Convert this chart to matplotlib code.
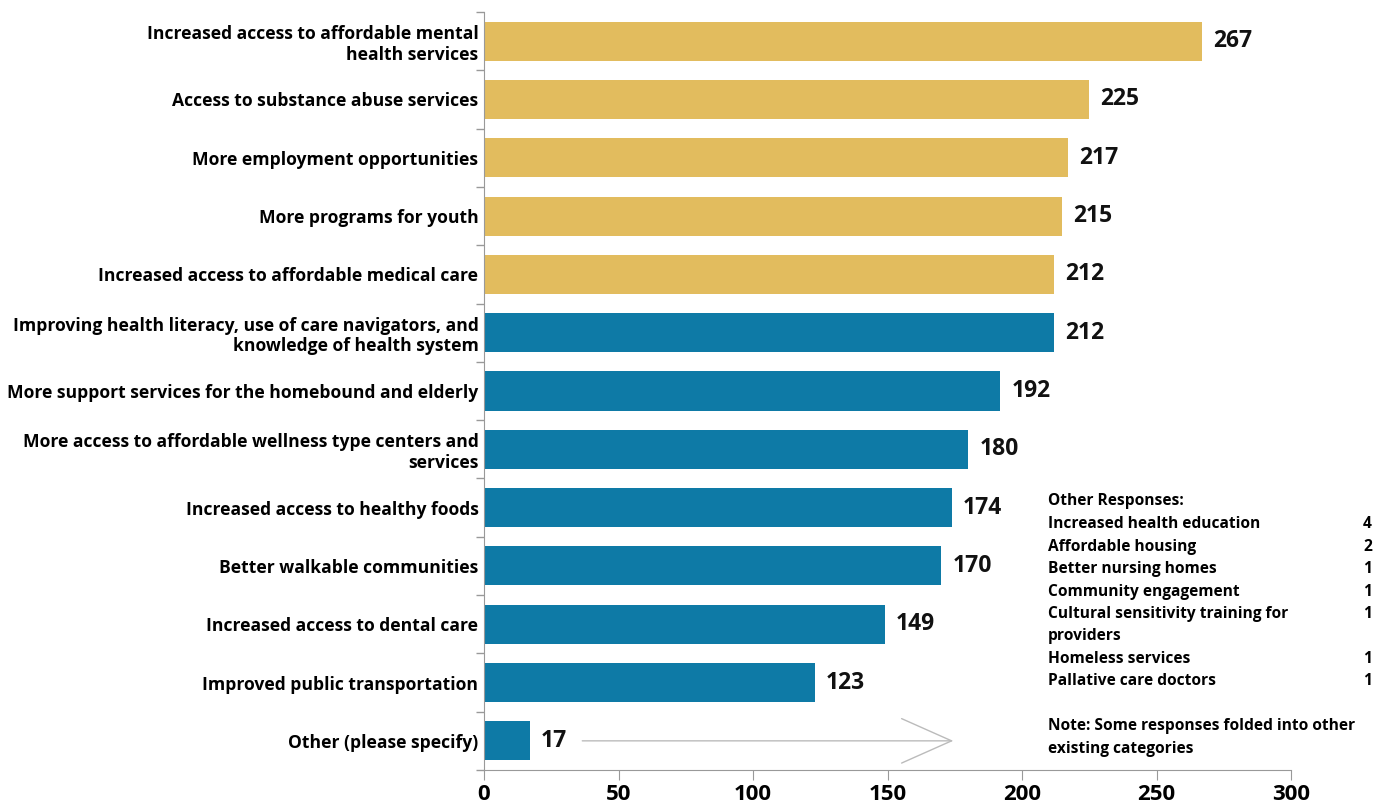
import matplotlib
matplotlib.use("Agg")
import matplotlib.pyplot as plt
import numpy as np

categories = [
    "Increased access to affordable mental\nhealth services",
    "Access to substance abuse services",
    "More employment opportunities",
    "More programs for youth",
    "Increased access to affordable medical care",
    "Improving health literacy, use of care navigators, and\nknowledge of health system",
    "More support services for the homebound and elderly",
    "More access to affordable wellness type centers and\nservices",
    "Increased access to healthy foods",
    "Better walkable communities",
    "Increased access to dental care",
    "Improved public transportation",
    "Other (please specify)",
]
values = [267, 225, 217, 215, 212, 212, 192, 180, 174, 170, 149, 123, 17]
top_group = 5  # first five bars highlighted in gold

other_labels = [
    "Increased health education",
    "Affordable housing",
    "Better nursing homes",
    "Community engagement",
    "Cultural sensitivity training for\nproviders",
    "Homeless services",
    "Pallative care doctors",
]
other_counts = [4, 2, 1, 1, 1, 1, 1]
note_text = "Note: Some responses folded into other\nexisting categories"

GOLD = "#E2BC5E"
TEAL = "#0E7AA6"
W = 'bold'
plt.rcParams['font.family'] = ['Open Sans', 'DejaVu Sans']

fig = plt.figure(figsize=(13.88, 8.08), dpi=100)
ax = fig.add_axes([484/1388, 1-770/808, (1291-484)/1388, (770-12)/808])

n = len(values)
y = np.arange(n)
colors = [GOLD if i < top_group else TEAL for i in range(n)]
ax.barh(y, values, height=0.67, color=colors)
ax.set_ylim(n - 0.5, -0.5)
ax.set_xlim(0, 300)

for i, v in enumerate(values):
    ax.annotate(str(v), (v, i), xytext=(8, 0), textcoords='offset points',
                va='center', ha='left', fontsize=16.5, fontweight=W, color='#111111')

ax.set_yticks(y)
ax.set_yticklabels(categories, fontsize=12.6, fontweight=W, linespacing=1.2)
ax.tick_params(axis='y', which='major', length=0, pad=4)
ax.set_yticks(np.arange(-0.5, n + 0.5, 1), minor=True)
ax.tick_params(axis='y', which='minor', length=6, color='#999999', width=1)
ax.set_xticks([0, 50, 100, 150, 200, 250, 300])
ax.tick_params(axis='x', length=7, color='#999999', labelsize=16, pad=3)
for lab in ax.get_xticklabels():
    lab.set_fontweight(W)

for s in ['top', 'right']:
    ax.spines[s].set_visible(False)
for s in ['left', 'bottom']:
    ax.spines[s].set_color('#999999')

# arrow from "Other" bar toward the side note
ax.annotate('', xy=(175.5, n - 1), xytext=(35.5, n - 1),
            arrowprops=dict(arrowstyle='->,head_length=36,head_width=16',
                            mutation_scale=1, color='#BBBBBB', lw=1))

# Other responses list
fs = 11.2
x_left = 1048 / 1388
x_right = 1372 / 1388
fig.text(x_left, 1 - 501/808, "Other Responses:", fontsize=fs, fontweight=W,
         va='center', ha='left')
ys = [524, 547, 569, 592, 614, 659, 681]
for lab, c, yy in zip(other_labels, other_counts, ys):
    if "\n" in lab:
        first, second = lab.split("\n")
        fig.text(x_left, 1 - yy/808, first, fontsize=fs, fontweight=W, va='center', ha='left')
        fig.text(x_left, 1 - (yy + 22.5)/808, second, fontsize=fs, fontweight=W, va='center', ha='left')
    else:
        fig.text(x_left, 1 - yy/808, lab, fontsize=fs, fontweight=W, va='center', ha='left')
    fig.text(x_right, 1 - yy/808, str(c), fontsize=fs, fontweight=W, va='center', ha='right')
n1, n2 = note_text.split("\n")
fig.text(x_left, 1 - 726/808, n1, fontsize=fs, fontweight=W, va='center', ha='left')
fig.text(x_left, 1 - 749/808, n2, fontsize=fs, fontweight=W, va='center', ha='left')

fig.savefig("out.png", dpi=100)
